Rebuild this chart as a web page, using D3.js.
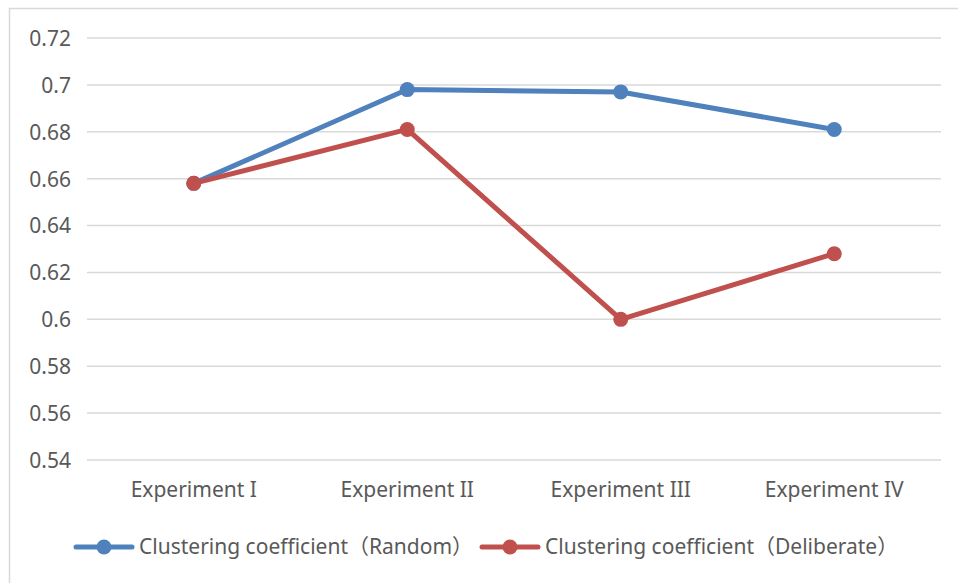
<!DOCTYPE html>
<html>
<head>
<meta charset="utf-8">
<style>
  body { margin: 0; background: #fff; }
  svg { display: block; }
  svg text { font-family: 'Noto Sans', 'Noto Sans CJK SC', sans-serif; }
  .grid line { stroke: #d9d9d9; stroke-width: 1.5; }
  .y .domain, .x .domain { display: none; }
  .tick text { fill: #595959; font-size: 21px; }
  .legend text { fill: #595959; font-size: 21px; }
</style>
</head>
<body>
<svg width="958" height="583"></svg>
<script src="https://d3js.org/d3.v7.min.js"></script>
<script>
  let categories = ["Experiment I", "Experiment II", "Experiment III", "Experiment IV"];
  let randomVals = [0.658, 0.698, 0.697, 0.681];
  let deliberateVals = [0.658, 0.681, 0.600, 0.628];
  let yTicks = [0.54, 0.56, 0.58, 0.6, 0.62, 0.64, 0.66, 0.68, 0.7, 0.72];
  let seriesNames = ["Clustering coefficient\uFF08Random\uFF09", "Clustering coefficient\uFF08Deliberate\uFF09"];
  let colors = ["#4f81bd", "#c0504d"];

  let series = [
    { name: seriesNames[0], values: randomVals, color: colors[0] },
    { name: seriesNames[1], values: deliberateVals, color: colors[1] }
  ];

  let svg = d3.select("svg");

  // chart border (left + top only visible)
  svg.append("path")
    .attr("d", "M9.5,583 V8.5 H958")
    .attr("fill", "none")
    .attr("stroke", "#d9d9d9")
    .attr("stroke-width", 1.5);

  let plot = { left: 87, right: 941, top: 38, bottom: 460 };

  let x = d3.scaleBand()
    .domain(categories)
    .range([plot.left, plot.right]);

  let y = d3.scaleLinear()
    .domain([0.54, 0.72])
    .range([plot.bottom, plot.top]);

  // gridlines
  svg.append("g")
    .attr("class", "grid")
    .selectAll("line")
    .data(yTicks)
    .join("line")
    .attr("x1", plot.left)
    .attr("x2", plot.right)
    .attr("y1", d => y(d))
    .attr("y2", d => y(d));

  svg.append("g")
    .attr("class", "y axis")
    .attr("transform", `translate(${plot.left - 16},0)`)
    .call(d3.axisLeft(y).tickValues(yTicks).tickSize(0).tickPadding(0).tickFormat(d => String(+d.toFixed(2))))
    .call(g => g.selectAll("text").attr("dy", "0.35em"));

  svg.append("g")
    .attr("class", "x axis")
    .attr("transform", `translate(0,${plot.bottom})`)
    .call(d3.axisBottom(x).tickSize(0).tickPadding(22));

  let line = d3.line()
    .x((d, i) => x(categories[i]) + x.bandwidth() / 2)
    .y(d => y(d));

  series.forEach(s => {
    svg.append("path")
      .datum(s.values)
      .attr("fill", "none")
      .attr("stroke", s.color)
      .attr("stroke-width", 5)
      .attr("stroke-linejoin", "round")
      .attr("stroke-linecap", "round")
      .attr("d", line);

    svg.append("g")
      .selectAll("circle")
      .data(s.values)
      .join("circle")
      .attr("cx", (d, i) => x(categories[i]) + x.bandwidth() / 2)
      .attr("cy", d => y(d))
      .attr("r", 7.5)
      .attr("fill", s.color);
  });

  // legend
  let legendX = [76, 482];
  let legend = svg.append("g").attr("class", "legend");
  series.forEach((s, i) => {
    let g = legend.append("g").attr("transform", `translate(${legendX[i]},547)`);
    g.append("line")
      .attr("x1", 0).attr("x2", 56)
      .attr("stroke", s.color)
      .attr("stroke-width", 5)
      .attr("stroke-linecap", "round");
    g.append("circle").attr("cx", 28).attr("r", 7.5).attr("fill", s.color);
    g.append("text")
      .attr("x", 63)
      .attr("dy", "0.35em")
      .text(s.name);
  });
</script>
</body>
</html>
